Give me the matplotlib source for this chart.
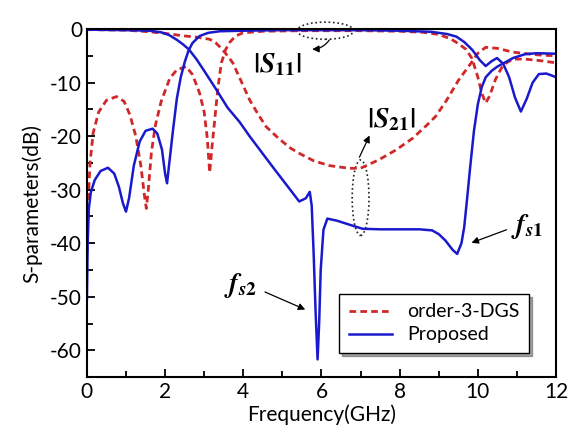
import numpy as np
import matplotlib
matplotlib.use("Agg")
import matplotlib.pyplot as plt
from matplotlib.patches import Ellipse

plt.rcParams["font.family"] = ["Lato", "DejaVu Sans"]
plt.rcParams["axes.unicode_minus"] = False
plt.rcParams["mathtext.fontset"] = "stix"

# Proposed |S11|
prop_s11_x = [0.0, 0.02, 0.05, 0.1, 0.2, 0.35, 0.54, 0.7, 0.82, 0.92, 1.0, 1.08, 1.2, 1.35,
              1.5, 1.68, 1.8, 1.92, 2.0, 2.05, 2.1, 2.2, 2.3, 2.4, 2.5, 2.6, 2.7, 2.88, 3.1,
              3.4, 4.0, 5.0, 6.0, 7.0, 8.0, 8.8, 9.2, 9.45, 9.65, 9.86, 10.05, 10.2, 10.35,
              10.49, 10.65, 10.8, 10.95, 11.1, 11.25, 11.4, 11.56, 11.75, 11.9, 12.0]
prop_s11_y = [-50.5, -40, -33.5, -30.5, -28.2, -26.5, -25.9, -27, -29.5, -32.5, -34.1, -31.5,
              -25.5, -21, -19, -18.6, -19.5, -22.5, -27, -28.8, -25.5, -19, -13, -9, -6.2, -4,
              -2.6, -1.3, -0.7, -0.4, -0.3, -0.2, -0.2, -0.2, -0.3, -0.5, -0.9, -1.4, -2.4,
              -3.9, -5.8, -6.9, -6, -5.4, -6.5, -9, -12.8, -15.4, -13, -10, -8.4, -8.3, -8.7, -9.0]

# Proposed |S21|
prop_s21_x = [0, 1.0, 1.6, 1.9, 2.1, 2.3, 2.45, 2.61, 2.8, 3.0, 3.31, 3.6, 3.9, 4.16, 4.5,
              4.8, 5.01, 5.2, 5.43, 5.6, 5.7, 5.75, 5.8, 5.85, 5.9, 5.94, 5.98, 6.05, 6.15,
              6.4, 6.7, 7.05, 7.5, 8.0, 8.5, 8.83, 9.0, 9.17, 9.35, 9.47, 9.58, 9.65, 9.72,
              9.8, 9.9, 10.0, 10.1, 10.2, 10.35, 10.5, 10.7, 10.9, 11.2, 11.5, 12.0]
prop_s21_y = [-0.1, -0.2, -0.3, -0.6, -1.1, -2, -2.8, -3.8, -5.6, -7.8, -11.3, -14.7, -17.3,
              -20, -23.3, -26.2, -28.2, -30, -32.2, -31.6, -30.4, -33, -42, -53, -61.7, -55,
              -45, -37.5, -35.4, -35.8, -36.5, -37.3, -37.4, -37.4, -37.4, -37.6, -38.3,
              -39.5, -41.2, -42.0, -40, -37, -32, -26, -19, -14, -10.8, -9, -7.8, -7, -6.2,
              -5.4, -4.7, -4.5, -4.6]

# order-3-DGS |S11|
dgs_s11_x = [0.0, 0.03, 0.08, 0.16, 0.3, 0.5, 0.76, 0.95, 1.1, 1.25, 1.38, 1.47, 1.52, 1.57,
             1.65, 1.75, 1.9, 2.12, 2.3, 2.54, 2.7, 2.88, 3.0, 3.08, 3.14, 3.2, 3.27, 3.35,
             3.44, 3.55, 3.65, 3.8, 3.99, 4.5, 5.5, 7.0, 8.0, 8.6, 9.0, 9.3, 9.5, 9.7, 9.85,
             10.0, 10.1, 10.2, 10.3, 10.45, 10.6, 10.75, 10.9, 11.2, 11.6, 12.0]
dgs_s11_y = [-42, -33, -25, -19.4, -15.5, -13.3, -12.6, -13.5, -16, -20, -25.5, -31, -33.5,
             -30, -23, -18, -13.5, -9.2, -7.6, -7, -8.5, -11.9, -15.5, -20.5, -26.8, -22,
             -16.9, -11, -6.3, -3.8, -2.5, -1.3, -0.7, -0.4, -0.3, -0.3, -0.4, -0.6, -1.0,
             -1.8, -2.7, -3.8, -5.5, -9, -12, -13.8, -12.5, -9.4, -7.3, -6.2, -5.6, -5.6,
             -5.9, -6.3]

# order-3-DGS |S21|
dgs_s21_x = [0, 1.0, 1.6, 2.0, 2.46, 2.8, 3.14, 3.3, 3.44, 3.6, 3.73, 3.95, 4.16, 4.37, 4.58,
             4.9, 5.2, 5.43, 5.8, 6.2, 6.71, 7.0, 7.47, 7.9, 8.33, 8.7, 8.92, 9.2, 9.5, 9.7,
             9.85, 10.0, 10.2, 10.5, 10.9, 11.5, 12.0]
dgs_s21_y = [-0.1, -0.2, -0.5, -0.8, -1.25, -1.5, -1.9, -2.6, -3.6, -5, -6.3, -9.8, -13.2,
             -15.8, -18.2, -20.4, -22.2, -23.2, -24.6, -25.5, -26, -26, -24.4, -22.6, -20.4,
             -17.9, -16.3, -13.3, -9.6, -7.6, -6.1, -4.5, -3.4, -3.6, -4.3, -4.8, -5.0]

blue = "#1a1acc"
red = "#d02828"

fig = plt.figure(figsize=(5.68, 4.41), dpi=100)
ax = fig.add_axes([0.153, 0.145, 0.826, 0.789])

ax.plot(dgs_s11_x, dgs_s11_y, color=red, linestyle=(0, (2.4, 1.5)), linewidth=2.0,
        label="order-3-DGS")
ax.plot(dgs_s21_x, dgs_s21_y, color=red, linestyle=(0, (2.4, 1.5)), linewidth=2.0)
ax.plot(prop_s11_x, prop_s11_y, color=blue, linewidth=1.8, label="Proposed")
ax.plot(prop_s21_x, prop_s21_y, color=blue, linewidth=1.8)

# annotation ellipses
ax.add_patch(Ellipse((6.1, -0.3), 1.45, 3.2, fill=False, linestyle=":", linewidth=1.2,
                     edgecolor="#222222", clip_on=False))
ax.add_patch(Ellipse((7.0, -31.5), 0.43, 14.1, fill=False, linestyle=":", linewidth=1.2,
                     edgecolor="#222222"))

arrow = dict(arrowstyle="-|>", color="black", linewidth=0.9, mutation_scale=10)
ax.annotate("", xy=(5.69, -3.76), xytext=(6.24, -1.6),
            arrowprops=dict(arrow, connectionstyle="arc3,rad=-0.3"))
ax.annotate("", xy=(7.26, -19.4), xytext=(6.94, -24.4), arrowprops=arrow)
ax.annotate("", xy=(5.65, -52.6), xytext=(4.49, -48.9), arrowprops=arrow)
ax.annotate("", xy=(9.77, -40.1), xytext=(10.8, -37.3), arrowprops=arrow)

ax.text(4.87, -6.6, r"$\mathbf{|}\mathbfit{S}_{\mathbf{11}}\mathbf{|}$", fontsize=20,
        ha="center", va="center")
ax.text(7.8, -16.9, r"$\mathbf{|}\mathbfit{S}_{\mathbf{21}}\mathbf{|}$", fontsize=20,
        ha="center", va="center")
ax.text(3.93, -47.9, r"$\mathbfit{f}_{\mathbfit{s}\mathbf{2}}$", fontsize=20,
        ha="center", va="center")
ax.text(11.25, -36.8, r"$\mathbfit{f}_{\mathbfit{s}\mathbf{1}}$", fontsize=20,
        ha="center", va="center")

ax.set_xlim(0, 12)
ax.set_ylim(-65, 0)
ax.set_xticks([0, 2, 4, 6, 8, 10, 12])
ax.set_yticks([0, -10, -20, -30, -40, -50, -60])
ax.set_xticks(np.arange(0, 13, 1), minor=True)
ax.set_yticks(np.arange(-65, 1, 5), minor=True)
ax.tick_params(which="both", direction="in", top=False, right=False, labelsize=15,
               width=1.3)
ax.tick_params(which="major", length=6)
ax.tick_params(which="minor", length=4)
for s in ax.spines.values():
    s.set_linewidth(1.5)

ax.set_xlabel("Frequency(GHz)", fontsize=15, labelpad=2)
ax.set_ylabel("S-parameters(dB)", fontsize=15, labelpad=6)

leg = ax.legend(loc="lower left", bbox_to_anchor=(0.538, 0.069, 0.405, 0.175),
                mode="expand", borderaxespad=0, fontsize=14, frameon=True, fancybox=False,
                shadow=True, edgecolor="black", handlelength=2.2, borderpad=0.5,
                labelspacing=0.3)
leg.get_frame().set_linewidth(1.0)

fig.savefig("out.png", dpi=100)
